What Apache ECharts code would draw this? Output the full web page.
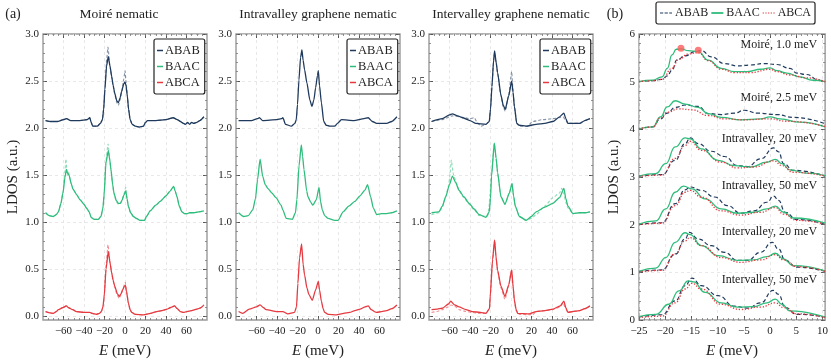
<!DOCTYPE html>
<html>
<head>
<meta charset="utf-8">
<script src="https://cdn.jsdelivr.net/npm/echarts@6.0.0/dist/echarts.min.js"></script>
<style>
  html, body { margin: 0; padding: 0; background: #fff; }
  #chart { width: 831px; height: 364px; }
</style>
</head>
<body>
<div id="chart"></div>
<script>
// ---- tick labels ----
const A_X_TICKS = [-60, -40, -20, 0, 20, 40, 60];
const A_Y_TICKS = [0, 0.5, 1, 1.5, 2, 2.5, 3];
const B_X_TICKS = [-25, -20, -15, -10, -5, 0, 5, 10];
const B_Y_TICKS = [0, 1, 2, 3, 4, 5, 6];

const A_TITLES = ['Moiré nematic', 'Intravalley graphene nematic', 'Intervalley graphene nematic'];
const B_LABELS = ['Moiré, 1.0 meV', 'Moiré, 2.5 meV', 'Intravalley, 20 meV', 'Intravalley, 50 meV', 'Intervalley, 20 meV', 'Intervalley, 50 meV'];
const B_LABEL_Y = [5.77, 4.66, 3.80, 2.81, 1.85, 0.84];

// ---- (a) Moiré nematic: [E, LDOS] ----
const moire_ABAB = [[-77.5,2.08],[-72,2.07],[-66,2.07],[-60,2.09],[-57,2.10],[-53,2.08],[-44,2.08],[-37,2.09],[-34.3,2.11],[-33,2.06],[-31.5,2.02],[-27,2.02],[-24,2.05],[-22,2.09],[-20.8,2.2],[-19.6,2.41],[-18,2.66],[-16.3,2.76],[-14.5,2.65],[-13,2.55],[-11.5,2.45],[-10,2.37],[-8,2.29],[-6.5,2.27],[-4.8,2.32],[-3.3,2.39],[-1.2,2.47],[0,2.49],[1,2.45],[2.3,2.34],[3.5,2.2],[5,2.09],[7,2.04],[10,2.02],[14,2.01],[18,2.02],[20,2.06],[22,2.08],[30,2.08],[40,2.09],[47,2.11],[51,2.09],[54,2.07],[57,2.05],[59,2.04],[61,2.06],[63,2.04],[65,2.06],[67,2.05],[70,2.06],[73,2.08],[77,2.12]];
const moire_ABAB_d = [[-77.5,2.08],[-72,2.07],[-66,2.07],[-60,2.09],[-57,2.10],[-53,2.08],[-44,2.08],[-37,2.09],[-34.3,2.11],[-33,2.06],[-31.5,2.02],[-27,2.02],[-24,2.05],[-22,2.09],[-20.8,2.21],[-19.6,2.43],[-17.8,2.74],[-16.6,2.86],[-14.7,2.66],[-13,2.54],[-11.5,2.44],[-10,2.36],[-8,2.27],[-6.5,2.24],[-4.8,2.30],[-3.3,2.38],[-1.2,2.52],[0,2.61],[1,2.50],[2.3,2.34],[3.5,2.2],[5,2.09],[7,2.04],[10,2.02],[14,2.01],[18,2.02],[20,2.06],[22,2.08],[30,2.08],[40,2.09],[47,2.11],[51,2.09],[54,2.07],[57,2.05],[59,2.04],[61,2.06],[63,2.04],[65,2.06],[67,2.05],[70,2.06],[73,2.08],[77,2.12]];
const moire_BAAC = [[-77.5,1.10],[-74,1.07],[-70,1.06],[-67,1.08],[-65,1.11],[-62.5,1.2],[-60.5,1.31],[-58.5,1.48],[-57.2,1.56],[-56,1.52],[-54.6,1.50],[-52.5,1.41],[-50.7,1.35],[-47,1.29],[-44,1.24],[-40,1.19],[-37.6,1.15],[-35,1.11],[-33,1.05],[-30,1.03],[-26,1.03],[-23.5,1.06],[-21.5,1.15],[-20.3,1.30],[-18.6,1.63],[-16.3,1.76],[-14.8,1.66],[-13.7,1.56],[-12,1.40],[-10.8,1.31],[-8.5,1.23],[-6.5,1.20],[-4.5,1.20],[-3,1.23],[-1,1.29],[0.7,1.33],[2,1.25],[3.3,1.17],[5.5,1.10],[8.2,1.06],[11,1.04],[14.7,1.02],[19,1.02],[21,1.06],[24.5,1.12],[30,1.18],[34.3,1.22],[40,1.28],[44,1.33],[47.4,1.38],[49,1.33],[50.7,1.27],[53,1.17],[55.5,1.11],[58,1.09],[60.5,1.09],[63,1.10],[67,1.10],[72,1.11],[77,1.12]];
const moire_BAAC_d = [[-77.5,1.10],[-74,1.07],[-70,1.06],[-67,1.08],[-65,1.11],[-62.5,1.2],[-60.5,1.32],[-58.8,1.52],[-57.6,1.67],[-56.4,1.50],[-55.2,1.54],[-54,1.48],[-52.5,1.41],[-50.7,1.35],[-47,1.29],[-44,1.24],[-40,1.19],[-37.6,1.15],[-35,1.11],[-33,1.05],[-30,1.03],[-26,1.03],[-23.5,1.06],[-21.5,1.16],[-20.3,1.32],[-18.6,1.66],[-16.5,1.83],[-14.8,1.66],[-13.7,1.55],[-12,1.39],[-10.8,1.30],[-8.5,1.22],[-6.5,1.19],[-4.5,1.20],[-3,1.23],[-1,1.30],[0.7,1.37],[2,1.25],[3.3,1.16],[5.5,1.10],[8.2,1.06],[11,1.04],[14.7,1.02],[19,1.02],[21,1.06],[24.5,1.12],[30,1.18],[34.3,1.22],[40,1.28],[44,1.33],[47.4,1.38],[49,1.33],[50.7,1.27],[53,1.17],[55.5,1.11],[58,1.09],[60.5,1.09],[63,1.10],[67,1.10],[72,1.11],[77,1.12]];
const moire_ABCA = [[-77.5,0.05],[-73,0.035],[-70,0.03],[-67,0.05],[-65,0.07],[-61,0.09],[-57.2,0.11],[-55,0.09],[-51,0.07],[-47.4,0.05],[-40,0.04],[-34.3,0.04],[-32,0.03],[-28,0.02],[-25,0.03],[-23,0.05],[-21.5,0.10],[-20.3,0.21],[-18.5,0.50],[-16.3,0.69],[-14.5,0.56],[-13,0.46],[-11.5,0.38],[-10,0.32],[-7.5,0.24],[-5.6,0.21],[-3.8,0.24],[-2.3,0.28],[-0.5,0.32],[0.3,0.33],[1.5,0.26],[3.3,0.14],[5,0.07],[6.5,0.04],[10,0.02],[18,0.015],[25,0.03],[31,0.05],[36,0.06],[41,0.075],[44,0.09],[46,0.10],[48.4,0.11],[51,0.08],[54,0.05],[57,0.04],[60.5,0.05],[65,0.06],[70,0.075],[74,0.09],[77,0.12]];
const moire_ABCA_d = [[-77.5,0.05],[-73,0.035],[-70,0.03],[-67,0.05],[-65,0.07],[-61,0.09],[-57.2,0.11],[-55,0.09],[-51,0.07],[-47.4,0.05],[-40,0.04],[-34.3,0.04],[-32,0.03],[-28,0.02],[-25,0.03],[-23,0.05],[-21.5,0.10],[-20.3,0.22],[-18.5,0.54],[-16.6,0.76],[-14.5,0.57],[-13,0.46],[-11.5,0.37],[-10,0.30],[-7.5,0.22],[-5.6,0.19],[-3.8,0.23],[-2.3,0.28],[-0.5,0.34],[0.3,0.36],[1.5,0.27],[3.3,0.14],[5,0.07],[6.5,0.04],[10,0.02],[18,0.015],[25,0.03],[31,0.05],[36,0.06],[41,0.075],[44,0.09],[46,0.10],[48.4,0.11],[51,0.08],[54,0.05],[57,0.04],[60.5,0.05],[65,0.06],[70,0.075],[74,0.09],[77,0.12]];

// ---- (a) Intravalley graphene nematic ----
const intra_ABAB = [[-77.5,2.08],[-65,2.08],[-59,2.10],[-57.2,2.11],[-54,2.08],[-40,2.09],[-35.5,2.10],[-34.3,2.11],[-31.7,2.04],[-26,2.02],[-22.5,2.05],[-21.2,2.09],[-20,2.25],[-18.6,2.51],[-17,2.75],[-15.7,2.83],[-14.5,2.72],[-13.1,2.62],[-10.8,2.48],[-8,2.30],[-5.9,2.23],[-4,2.30],[-2.3,2.43],[-0.5,2.56],[0.3,2.61],[1.5,2.45],[3.3,2.27],[5.6,2.07],[8,2.03],[11.4,2.02],[16.3,2.02],[19,2.05],[22.9,2.09],[35,2.08],[45,2.10],[49,2.11],[53,2.07],[57.2,2.05],[62,2.05],[67,2.05],[72,2.07],[77,2.12]];
const intra_BAAC = [[-77.5,1.10],[-72.5,1.06],[-68,1.07],[-63.7,1.13],[-61,1.25],[-59,1.45],[-56.5,1.67],[-54,1.49],[-51.5,1.40],[-49,1.36],[-45,1.31],[-41,1.26],[-36,1.18],[-34.3,1.13],[-31,1.04],[-25,1.03],[-22,1.10],[-20.6,1.24],[-18.5,1.60],[-16.3,1.82],[-15,1.70],[-13.7,1.56],[-11,1.33],[-9.8,1.27],[-7,1.21],[-5,1.18],[-1.6,1.24],[1,1.37],[2.5,1.22],[4.2,1.13],[6.5,1.07],[9.8,1.04],[16.3,1.02],[19.6,1.02],[24.5,1.11],[30,1.17],[35.9,1.22],[41,1.28],[45.8,1.34],[48.4,1.40],[51.3,1.27],[54,1.15],[57.2,1.08],[62,1.09],[67,1.09],[72,1.10],[77,1.12]];
const intra_ABCA = [[-77.5,0.05],[-73.5,0.03],[-67,0.075],[-60,0.10],[-56.5,0.12],[-53,0.09],[-50.7,0.07],[-40,0.05],[-34.3,0.05],[-29.4,0.025],[-22.9,0.04],[-21,0.10],[-19.6,0.35],[-18,0.62],[-16,0.77],[-14.5,0.55],[-13.1,0.44],[-10.8,0.30],[-8.8,0.23],[-5.6,0.17],[-2.3,0.28],[0.3,0.37],[1.5,0.28],[3.3,0.16],[5,0.08],[6.5,0.04],[10,0.02],[18,0.015],[25,0.03],[31,0.04],[36,0.06],[41,0.075],[46,0.10],[49,0.11],[52,0.07],[55,0.05],[57.2,0.04],[62,0.05],[67,0.06],[72,0.08],[77,0.12]];

// ---- (a) Intervalley graphene nematic ----
const inter_ABAB = [[-77.5,2.07],[-67,2.10],[-60,2.14],[-57.2,2.15],[-52,2.13],[-47.4,2.11],[-40,2.08],[-34.3,2.05],[-24.5,2.04],[-21.2,2.07],[-20,2.20],[-18.6,2.44],[-17,2.72],[-16,2.82],[-14.5,2.70],[-13.1,2.59],[-9.8,2.35],[-7.5,2.24],[-5.6,2.20],[-2.3,2.34],[0.65,2.50],[2,2.38],[3.3,2.23],[5.6,2.05],[8,2.03],[14.7,2.02],[24.5,2.04],[33,2.05],[40.8,2.07],[47.4,2.12],[51.6,2.16],[53.5,2.10],[55.5,2.05],[60,2.05],[67,2.05],[72,2.08],[77,2.10]];
const inter_ABAB_d = [[-77.5,2.07],[-67,2.09],[-57.2,2.13],[-50,2.12],[-40,2.10],[-35.9,2.11],[-33,2.06],[-29.4,2.02],[-24.5,2.04],[-21.2,2.07],[-20,2.20],[-18.6,2.44],[-17,2.70],[-16,2.80],[-14.5,2.69],[-13.1,2.58],[-9.8,2.34],[-7.5,2.22],[-5.6,2.18],[-2.3,2.35],[0.65,2.60],[2,2.40],[3.3,2.23],[5.6,2.05],[8,2.02],[16,2.02],[21.2,2.07],[31,2.09],[40.8,2.10],[47,2.11],[50.7,2.12],[53,2.09],[55.5,2.05],[60,2.05],[67,2.05],[72,2.08],[77,2.10]];
const inter_BAAC = [[-77.5,1.10],[-70.3,1.11],[-67,1.17],[-63.7,1.27],[-60,1.40],[-57.2,1.49],[-54,1.42],[-50.7,1.34],[-46,1.27],[-40.8,1.20],[-36,1.14],[-31,1.08],[-24.5,1.05],[-21.2,1.11],[-20,1.25],[-19,1.49],[-16.3,1.84],[-14.5,1.68],[-13.1,1.53],[-9.8,1.27],[-5.9,1.19],[-1.6,1.31],[1,1.41],[2.5,1.28],[4.2,1.17],[8.2,1.06],[14.7,1.02],[20,1.06],[24.5,1.11],[33,1.16],[40.8,1.20],[47.4,1.26],[51.6,1.36],[53.5,1.25],[55.5,1.17],[60.5,1.09],[67,1.10],[72,1.10],[77,1.11]];
const inter_BAAC_d = [[-77.5,1.08],[-70.3,1.10],[-67,1.16],[-63.7,1.27],[-61,1.38],[-59.5,1.50],[-58.3,1.66],[-56,1.50],[-53,1.41],[-50.7,1.33],[-46,1.26],[-40.8,1.19],[-36,1.13],[-31,1.07],[-22.9,1.06],[-21.5,1.15],[-20.5,1.30],[-19,1.52],[-16.3,1.84],[-14.5,1.67],[-13.1,1.52],[-9.8,1.27],[-5.9,1.19],[-1.6,1.31],[1,1.42],[2.5,1.28],[4.2,1.17],[8.2,1.06],[14.7,1.02],[20,1.04],[24.5,1.08],[33,1.17],[40.8,1.26],[47.4,1.31],[49.5,1.36],[51.5,1.30],[53.5,1.21],[55.5,1.15],[60.5,1.09],[67,1.10],[72,1.10],[77,1.11]];
const inter_ABCA = [[-77.5,0.07],[-72,0.075],[-67,0.085],[-61,0.13],[-58.8,0.16],[-55,0.12],[-50.7,0.10],[-44,0.07],[-37.6,0.05],[-30,0.04],[-24.5,0.03],[-21,0.08],[-20.3,0.21],[-18,0.60],[-16,0.81],[-14.5,0.62],[-13.1,0.49],[-9.8,0.32],[-5.9,0.21],[-2.3,0.33],[0.65,0.49],[2,0.32],[3.3,0.17],[5,0.07],[6.5,0.03],[18,0.025],[24.5,0.05],[33,0.06],[40.8,0.075],[48,0.11],[51.6,0.16],[53.5,0.09],[55.5,0.04],[60,0.05],[67,0.06],[72,0.08],[77,0.11]];
const inter_ABCA_d = [[-77.5,0.04],[-72,0.05],[-67,0.07],[-61,0.10],[-58.5,0.12],[-55,0.11],[-50.7,0.07],[-44,0.05],[-37.6,0.04],[-30,0.03],[-24.5,0.03],[-21,0.08],[-20.3,0.20],[-18,0.58],[-16,0.81],[-14.5,0.61],[-13.1,0.48],[-9.8,0.30],[-5.9,0.18],[-2.3,0.32],[0.65,0.50],[2,0.32],[3.3,0.16],[5,0.06],[8,0.02],[21.2,0.015],[24.5,0.05],[33,0.06],[40.8,0.07],[48,0.10],[50.7,0.14],[53.5,0.08],[55.5,0.04],[60,0.05],[67,0.06],[72,0.08],[77,0.11]];

// ---- (b) line cuts, offset curves ----
const b1_ABAB = [[-25,5.0],[-22.4,5.02],[-20.6,5.05],[-19.6,5.12],[-18.7,5.24],[-17.75,5.46],[-16.2,5.54],[-14.3,5.63],[-13.1,5.65],[-11.2,5.52],[-8.7,5.38],[-6.2,5.33],[-3.7,5.35],[-1.2,5.38],[1.3,5.36],[3.8,5.28],[5.1,5.18],[6.9,5.15],[9.4,5.03],[10.5,5.0]];
const b1_BAAC = [[-25,5.0],[-22.4,5.03],[-20.6,5.10],[-19.6,5.28],[-18.7,5.56],[-17.9,5.68],[-17,5.69],[-15.6,5.65],[-13.7,5.63],[-11.8,5.45],[-9.3,5.28],[-6.8,5.21],[-4.3,5.21],[-1.8,5.26],[0,5.29],[1.3,5.23],[3.2,5.18],[5.7,5.10],[8.2,5.03],[10.5,5.0]];
const b1_ABCA = [[-25,5.0],[-22.4,5.02],[-20.6,5.05],[-18.7,5.28],[-17.4,5.47],[-15.6,5.58],[-13.7,5.61],[-11.8,5.44],[-9.3,5.26],[-6.8,5.19],[-3.7,5.19],[0,5.26],[1.3,5.21],[3.8,5.14],[6.9,5.08],[10.5,5.0]];
const b_markers = [[-17,5.70],[-13.7,5.66]];
const b2_ABAB = [[-25,4.0],[-22.4,4.05],[-20.9,4.22],[-19.6,4.34],[-18.1,4.46],[-16.2,4.51],[-13.7,4.48],[-11.8,4.33],[-9.3,4.31],[-6.8,4.34],[-4.9,4.40],[-2.4,4.34],[1.3,4.31],[4.4,4.25],[10.5,4.12]];
const b2_BAAC = [[-25,4.01],[-22.4,4.05],[-20.9,4.26],[-19.6,4.47],[-18.1,4.60],[-16.2,4.53],[-13.7,4.46],[-11.8,4.33],[-9.3,4.25],[-5.6,4.20],[-1.8,4.22],[0,4.26],[1.9,4.22],[5.7,4.15],[10.5,4.05]];
const b2_ABCA = [[-25,4.01],[-22.4,4.05],[-20.9,4.24],[-19.6,4.36],[-17.4,4.43],[-14.9,4.41],[-11.8,4.29],[-8.7,4.22],[-4.9,4.20],[0,4.22],[3.2,4.17],[10.5,4.06]];
const b3_ABAB = [[-25,3.02],[-20.6,3.05],[-18.1,3.35],[-16.2,3.70],[-15.25,3.82],[-13.7,3.70],[-11.2,3.54],[-8.7,3.43],[-6.2,3.24],[-4.3,3.22],[-1.8,3.38],[0.7,3.61],[1.6,3.53],[2.6,3.28],[4.4,3.14],[10.5,3.02]];
const b3_BAAC = [[-25,3.02],[-21.8,3.07],[-19.9,3.28],[-18.1,3.63],[-16.2,3.82],[-15.25,3.80],[-13.1,3.59],[-9.9,3.35],[-6.8,3.24],[-3.7,3.21],[-0.6,3.31],[1,3.37],[2.25,3.28],[3.8,3.15],[6.9,3.08],[10.5,3.03]];
const b3_ABCA = [[-25,3.01],[-20.6,3.04],[-18.1,3.39],[-16.2,3.66],[-15.25,3.75],[-13.1,3.56],[-9.3,3.31],[-6.2,3.19],[-3.1,3.21],[0.7,3.34],[2.25,3.24],[4.4,3.10],[10.5,3.02]];
const b4_ABAB = [[-25,2.01],[-20.6,2.04],[-18.1,2.44],[-16.2,2.73],[-15.25,2.79],[-13.1,2.72],[-10.6,2.58],[-8.1,2.40],[-5.6,2.24],[-3.1,2.29],[-0.6,2.47],[0.7,2.60],[1.6,2.51],[2.9,2.26],[5.1,2.11],[10.5,2.01]];
const b4_BAAC = [[-25,2.01],[-21.8,2.08],[-19.9,2.33],[-18.1,2.68],[-16.5,2.81],[-14.9,2.75],[-12.4,2.54],[-9.3,2.33],[-6.2,2.24],[-3.1,2.26],[-0.6,2.33],[1,2.39],[2.6,2.26],[4.4,2.14],[10.5,2.03]];
const b4_ABCA = [[-25,2.0],[-20.6,2.03],[-18.1,2.40],[-16.2,2.68],[-15.25,2.72],[-13.1,2.58],[-9.3,2.29],[-5.6,2.20],[-1.8,2.26],[1,2.36],[2.6,2.22],[5.1,2.09],[10.5,2.01]];
const b5_ABAB = [[-25,1.02],[-20.6,1.05],[-18.1,1.38],[-16.2,1.70],[-15.4,1.84],[-13.7,1.70],[-11.2,1.56],[-8.7,1.42],[-6.2,1.25],[-4.3,1.25],[-1.8,1.42],[0.4,1.63],[1.6,1.49],[2.9,1.25],[5.1,1.11],[10.5,1.02]];
const b5_BAAC = [[-25,1.02],[-21.8,1.09],[-19.9,1.31],[-18.1,1.63],[-16.2,1.83],[-15.25,1.79],[-13.1,1.56],[-9.9,1.35],[-6.2,1.25],[-3.1,1.26],[-0.6,1.33],[1,1.40],[2.6,1.28],[4.4,1.14],[10.5,1.03]];
const b5_ABCA = [[-25,1.01],[-20.6,1.04],[-18.1,1.39],[-16.2,1.66],[-15.25,1.73],[-13.1,1.56],[-9.3,1.31],[-5.6,1.21],[-1.8,1.26],[1,1.37],[2.6,1.26],[5.1,1.12],[10.5,1.02]];
const b6_ABAB = [[-25,0.06],[-20.6,0.11],[-18.1,0.40],[-16.2,0.72],[-14.9,0.88],[-13.1,0.72],[-9.9,0.51],[-6.8,0.29],[-4.3,0.25],[-1.8,0.36],[0.6,0.62],[1.6,0.54],[2.9,0.26],[5.1,0.12],[10.5,0.06]];
const b6_BAAC = [[-25,0.07],[-21.8,0.12],[-19.3,0.33],[-17.4,0.61],[-15.6,0.82],[-14.6,0.80],[-12.4,0.58],[-9.3,0.36],[-6.2,0.27],[-3.1,0.28],[-0.6,0.36],[1,0.44],[2.25,0.33],[3.8,0.19],[10.5,0.06]];
const b6_ABCA = [[-25,0.05],[-20.6,0.08],[-18.1,0.36],[-16.2,0.65],[-14.9,0.77],[-13.1,0.65],[-9.3,0.33],[-5.6,0.22],[-1.8,0.27],[1,0.36],[2.6,0.26],[5.1,0.13],[10.5,0.05]];

// ---- styling ----
const SERIF = '"Liberation Serif", "DejaVu Serif", serif';
const C_ABAB = '#1f3a5c', C_BAAC = '#2fbd7c', C_ABCA = '#e53a40';

function steps(a, b, s) {
    const out = [];
    for (let v = a; v <= b + 1e-9; v += s) out.push(Math.round(v * 1000) / 1000);
    return out;
}
function minusFmt(v) { return v < 0 ? '\u2212' + (-v) : String(v); }

const grids = [
    { left: 43, top: 34, width: 164, height: 286 },
    { left: 236, top: 34, width: 164, height: 286 },
    { left: 429, top: 34, width: 164, height: 286 },
    { left: 639, top: 34, width: 190, height: 286 }
].map(g => Object.assign(g, { show: true, borderColor: '#999', borderWidth: 1.4, backgroundColor: 'transparent' }));

const xAxes = [], yAxes = [];
// one labelled axis + a minor-tick axis on each side of the frame
function addAxes(list, grid, min, max, interval, major, minor, pos, opts) {
    const base = { type: 'value', gridIndex: grid, min: min, max: max, position: pos,
        axisLine: { show: false, onZero: false }, splitLine: { show: false }, axisLabel: { show: false } };
    if (interval) base.interval = interval;
    const idx = list.length;
    const main = Object.assign({}, base, {
        axisTick: { show: true, inside: true, length: 4, customValues: major, lineStyle: { color: '#555', width: 1 } }
    });
    if (opts) {
        main.axisLabel = { show: true, customValues: major, formatter: opts.fmt, margin: opts.margin,
            color: '#222', fontFamily: SERIF, fontSize: 11 };
        main.splitLine = { show: true, lineStyle: { color: '#e2e2e2', type: [3, 3], width: 0.8 } };
        if (opts.name) {
            main.name = opts.name;
            main.nameLocation = 'middle';
            main.nameGap = opts.nameGap;
            main.nameTextStyle = { fontFamily: SERIF, fontSize: 15, color: '#222',
                rich: { i: { fontFamily: SERIF, fontSize: 15, fontStyle: 'italic', color: '#222' } } };
        }
    }
    list.push(main);
    list.push(Object.assign({}, base, {
        axisTick: { show: true, inside: true, length: 2, customValues: minor, lineStyle: { color: '#777', width: 0.8 } }
    }));
    return idx;
}

const axisIdx = [];
for (let g = 0; g < 3; g++) {
    const xi = addAxes(xAxes, g, -80, 80, 20, A_X_TICKS, steps(-75, 75, 5), 'bottom',
        { fmt: minusFmt, margin: 6, name: '{i|E} (meV)', nameGap: 24 });
    addAxes(xAxes, g, -80, 80, 20, A_X_TICKS, steps(-75, 75, 5), 'top', null);
    const yi = addAxes(yAxes, g, -0.04, 3, null, A_Y_TICKS, steps(0, 3, 0.1), 'left',
        { fmt: v => v.toFixed(1), margin: 4, name: g === 0 ? 'LDOS (a.u.)' : null, nameGap: 22 });
    addAxes(yAxes, g, -0.04, 3, null, A_Y_TICKS, steps(0, 3, 0.1), 'right', null);
    axisIdx.push([xi, yi]);
}
{
    const xi = addAxes(xAxes, 3, -25, 10.5, 5, B_X_TICKS, steps(-25, 10, 1), 'bottom',
        { fmt: minusFmt, margin: 6, name: '{i|E} (meV)', nameGap: 24 });
    addAxes(xAxes, 3, -25, 10.5, 5, B_X_TICKS, steps(-25, 10, 1), 'top', null);
    const yi = addAxes(yAxes, 3, 0, 6, 1, B_Y_TICKS, steps(0, 6, 0.2), 'left',
        { fmt: minusFmt, margin: 4, name: 'LDOS (a.u.)', nameGap: 17 });
    addAxes(yAxes, 3, 0, 6, 1, B_Y_TICKS, steps(0, 6, 0.2), 'right', null);
    axisIdx.push([xi, yi]);
}

const series = [];
function line(name, data, g, color, lineStyle, smooth) {
    series.push({
        name: name, type: 'line', data: data, xAxisIndex: axisIdx[g][0], yAxisIndex: axisIdx[g][1],
        showSymbol: false, symbol: 'none', smooth: smooth, smoothMonotone: 'x', silent: true,
        color: color, lineStyle: Object.assign({ color: color }, lineStyle)
    });
}
const SOLID = { width: 1.3 };
const DASH = { width: 1.1, type: [3, 2], opacity: 0.55 };

const panelA = [
    [[moire_ABAB, moire_ABAB_d], [moire_BAAC, moire_BAAC_d], [moire_ABCA, moire_ABCA_d]],
    [[intra_ABAB, null], [intra_BAAC, null], [intra_ABCA, null]],
    [[inter_ABAB, inter_ABAB_d], [inter_BAAC, inter_BAAC_d], [inter_ABCA, inter_ABCA_d]]
];
const NAMES = ['ABAB', 'BAAC', 'ABCA'];
const COLORS = [C_ABAB, C_BAAC, C_ABCA];
panelA.forEach((sets, g) => {
    sets.forEach((pair, k) => {
        line(NAMES[k], pair[0], g, COLORS[k], SOLID, 0.2);
        if (pair[1]) line(NAMES[k] + ' dashed', pair[1], g, COLORS[k], DASH, 0.2);
    });
});

const panelB = [
    [b1_ABAB, b1_BAAC, b1_ABCA], [b2_ABAB, b2_BAAC, b2_ABCA], [b3_ABAB, b3_BAAC, b3_ABCA],
    [b4_ABAB, b4_BAAC, b4_ABCA], [b5_ABAB, b5_BAAC, b5_ABCA], [b6_ABAB, b6_BAAC, b6_ABCA]
];
const B_STYLES = [{ width: 1.2, type: [4, 2.5] }, { width: 1.3 }, { width: 1.3, type: [1.3, 1.7] }];
panelB.forEach(group => {
    group.forEach((d, k) => line('b-' + NAMES[k], d, 3, COLORS[k], B_STYLES[k], 0.5));
});
series.push({
    type: 'scatter', data: b_markers, xAxisIndex: axisIdx[3][0], yAxisIndex: axisIdx[3][1],
    symbolSize: 7, itemStyle: { color: '#ff5b5b' }, silent: true, z: 5
});

const legendA = [154, 347, 540].map(left => ({
    left: left, top: 39, orient: 'vertical', selectedMode: false,
    data: NAMES.map(n => ({ name: n, icon: 'rect' })),
    itemWidth: 6, itemHeight: 1.5, itemGap: 3, padding: [5, 5, 5, 3],
    backgroundColor: '#fff', borderColor: '#222', borderWidth: 1.2, borderRadius: 2,
    textStyle: { fontFamily: SERIF, fontSize: 12.5, color: '#222', padding: [0, 0, 0, -3] }
}));
const ICON_DASH = 'path://M0,0h3.5v1h-3.5z M5,0h3.5v1h-3.5z M10,0h3v1h-3z';
const ICON_DOT = 'path://M0,0h1.4v1h-1.4z M2.9,0h1.4v1h-1.4z M5.8,0h1.4v1h-1.4z M8.7,0h1.4v1h-1.4z M11.6,0h1.4v1h-1.4z';
const legendB = {
    left: 656, top: 2, width: 170, orient: 'horizontal', selectedMode: false,
    data: [{ name: 'b-ABAB', icon: ICON_DASH }, { name: 'b-BAAC', icon: 'rect' }, { name: 'b-ABCA', icon: ICON_DOT }],
    formatter: n => n.slice(2), itemWidth: 12, itemHeight: 1.8, itemGap: 3, padding: [5, 4, 5, 4],
    backgroundColor: '#fff', borderColor: '#222', borderWidth: 1.2, borderRadius: 2,
    textStyle: { fontFamily: SERIF, fontSize: 12, color: '#222', padding: [0, 0, 0, -2] }
};

function text(t, x, y, size, align) {
    return { type: 'text', x: x, y: y, silent: true,
        style: { text: t, fill: '#222', font: size + 'px ' + SERIF, textAlign: align, verticalAlign: 'middle' } };
}
const graphics = [
    text('(a)', 13, 14, 14, 'center'),
    text('(b)', 615, 14, 14, 'center'),
    text(A_TITLES[0], 119, 14, 13.5, 'center'),
    text(A_TITLES[1], 318, 14, 13.5, 'center'),
    text(A_TITLES[2], 511, 14, 13.5, 'center')
];

const chart = echarts.init(document.getElementById('chart'));
chart.setOption({
    animation: false,
    backgroundColor: '#fff',
    grid: grids,
    xAxis: xAxes,
    yAxis: yAxes,
    legend: legendA.concat([legendB]),
    series: series,
    graphic: graphics
});
// panel (b) curve labels, placed in data space
const bLabels = B_LABELS.map((t, i) => {
    const p = chart.convertToPixel({ gridIndex: 3 }, [9.0, B_LABEL_Y[i]]);
    return text(t, p[0], p[1], 12, 'right');
});
chart.setOption({ graphic: graphics.concat(bLabels) });
</script>
</body>
</html>
